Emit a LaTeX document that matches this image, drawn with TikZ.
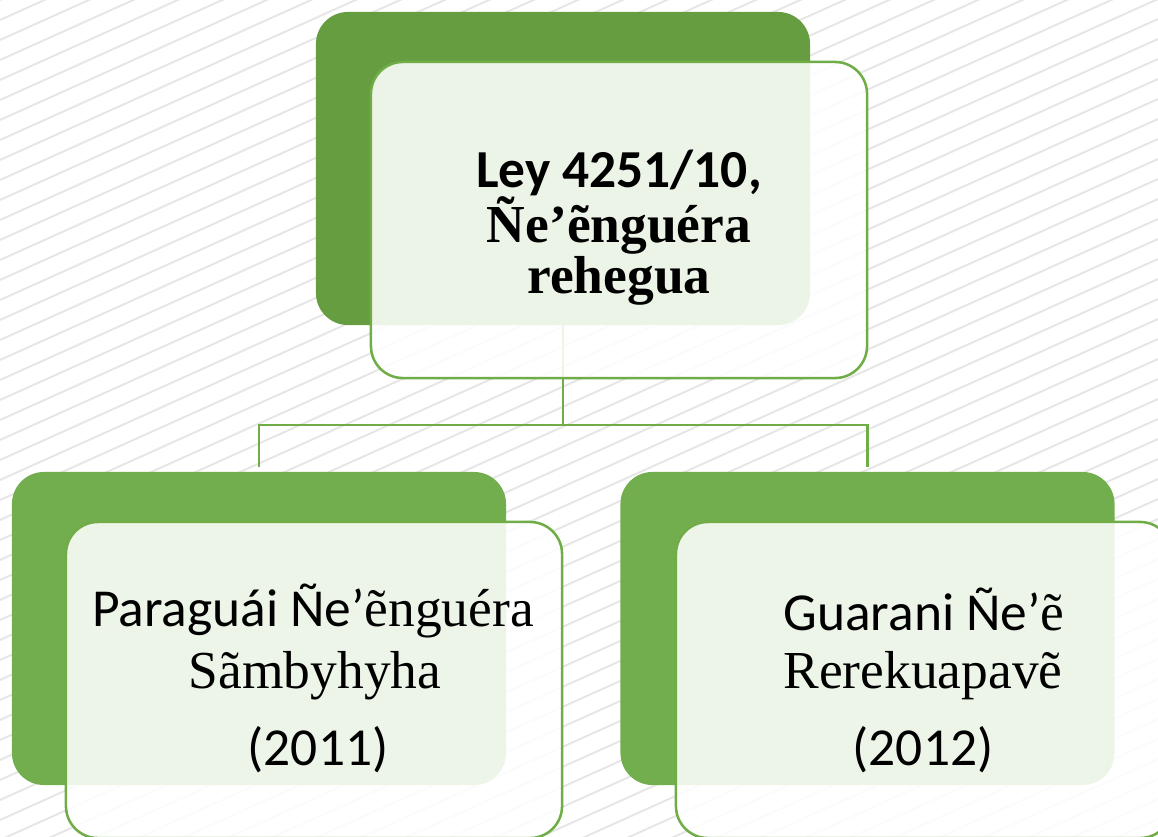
\documentclass[tikz,border=0pt]{standalone}
\usepackage{fontspec}
\newfontfamily\calibrifont{Carlito}
\newfontfamily\timesfont{Liberation Serif}
\usepackage{tikz}
\usetikzlibrary{positioning}
\definecolor{darkleaf}{HTML}{659D40}
\definecolor{leaf}{HTML}{72AE4D}
\definecolor{edge}{HTML}{70AD47}
\definecolor{hatchgray}{HTML}{E6E6E6}

\begin{document}
\begin{tikzpicture}[x=0.025cm, y=-0.025cm]
    \tikzset{%
      back/.style={fill=leaf, rounded corners=0.8cm, minimum width=12.35cm, minimum height=7.825cm, inner sep=0pt},
      front/.style={draw=edge, line width=1.8pt, fill=white, fill opacity=0.88, rounded corners=0.8cm, minimum width=12.4cm, minimum height=7.9cm, inner sep=0pt},
      txt/.style={anchor=base, inner sep=0pt, font=\fontsize{38}{40}\selectfont},
      link/.style={draw=edge, line width=2pt}
      }
    \useasboundingbox (0,0) rectangle (1158,836);
    \begin{scope}
      \clip (0,0) rectangle (1158,836);
      \foreach \c in {0,20,...,1360}
        \draw [hatchgray, line width=1.4pt] (0,\c) -- (1158,\c-521);
    \end{scope}

    \node [back, fill=darkleaf] (Tback) at (563,168.5) {};
    \node [back] (Lback) at (259,628.5) {};
    \node [back] (Rback) at (867.5,628.5) {};

    \coordinate (hub) at (563,425);
    \draw [link] (Tback.south) -- (hub);
    \draw [link, shorten >=3pt] (hub) -| (Lback.north);
    \draw [link, shorten >=3pt] (hub) -| (Rback.north);

    \node [front] (Tfront) at (619,220) {};
    \node [front] (Lfront) at (314,680) {};
    \node [front] (Rfront) at (924,680) {};

    \node [txt] (Tley) at (619,187) {\calibrifont\bfseries Ley 4251/10,};
    \node [txt] (Tnee) at (619,242) {\timesfont\bfseries Ñe’ẽnguéra};
    \node [txt] (Treh) at (619,293) {\timesfont\bfseries rehegua};

    \node [txt] (Lpar) at (313,626) {\calibrifont Paraguái Ñe’\timesfont ẽnguéra};
    \node [txt] (Lsam) at (315,688) {\timesfont Sãmbyhyha};
    \node [txt] (Lyear) at (318,765) {\calibrifont (2011)};

    \node [txt] (Rgua) at (924,630) {\calibrifont Guarani Ñe’\timesfont ẽ};
    \node [txt] (Rrer) at (923,688) {\timesfont Rerekuapavẽ};
    \node [txt] (Ryear) at (923,765) {\calibrifont (2012)};
  \end{tikzpicture}
\end{document}
